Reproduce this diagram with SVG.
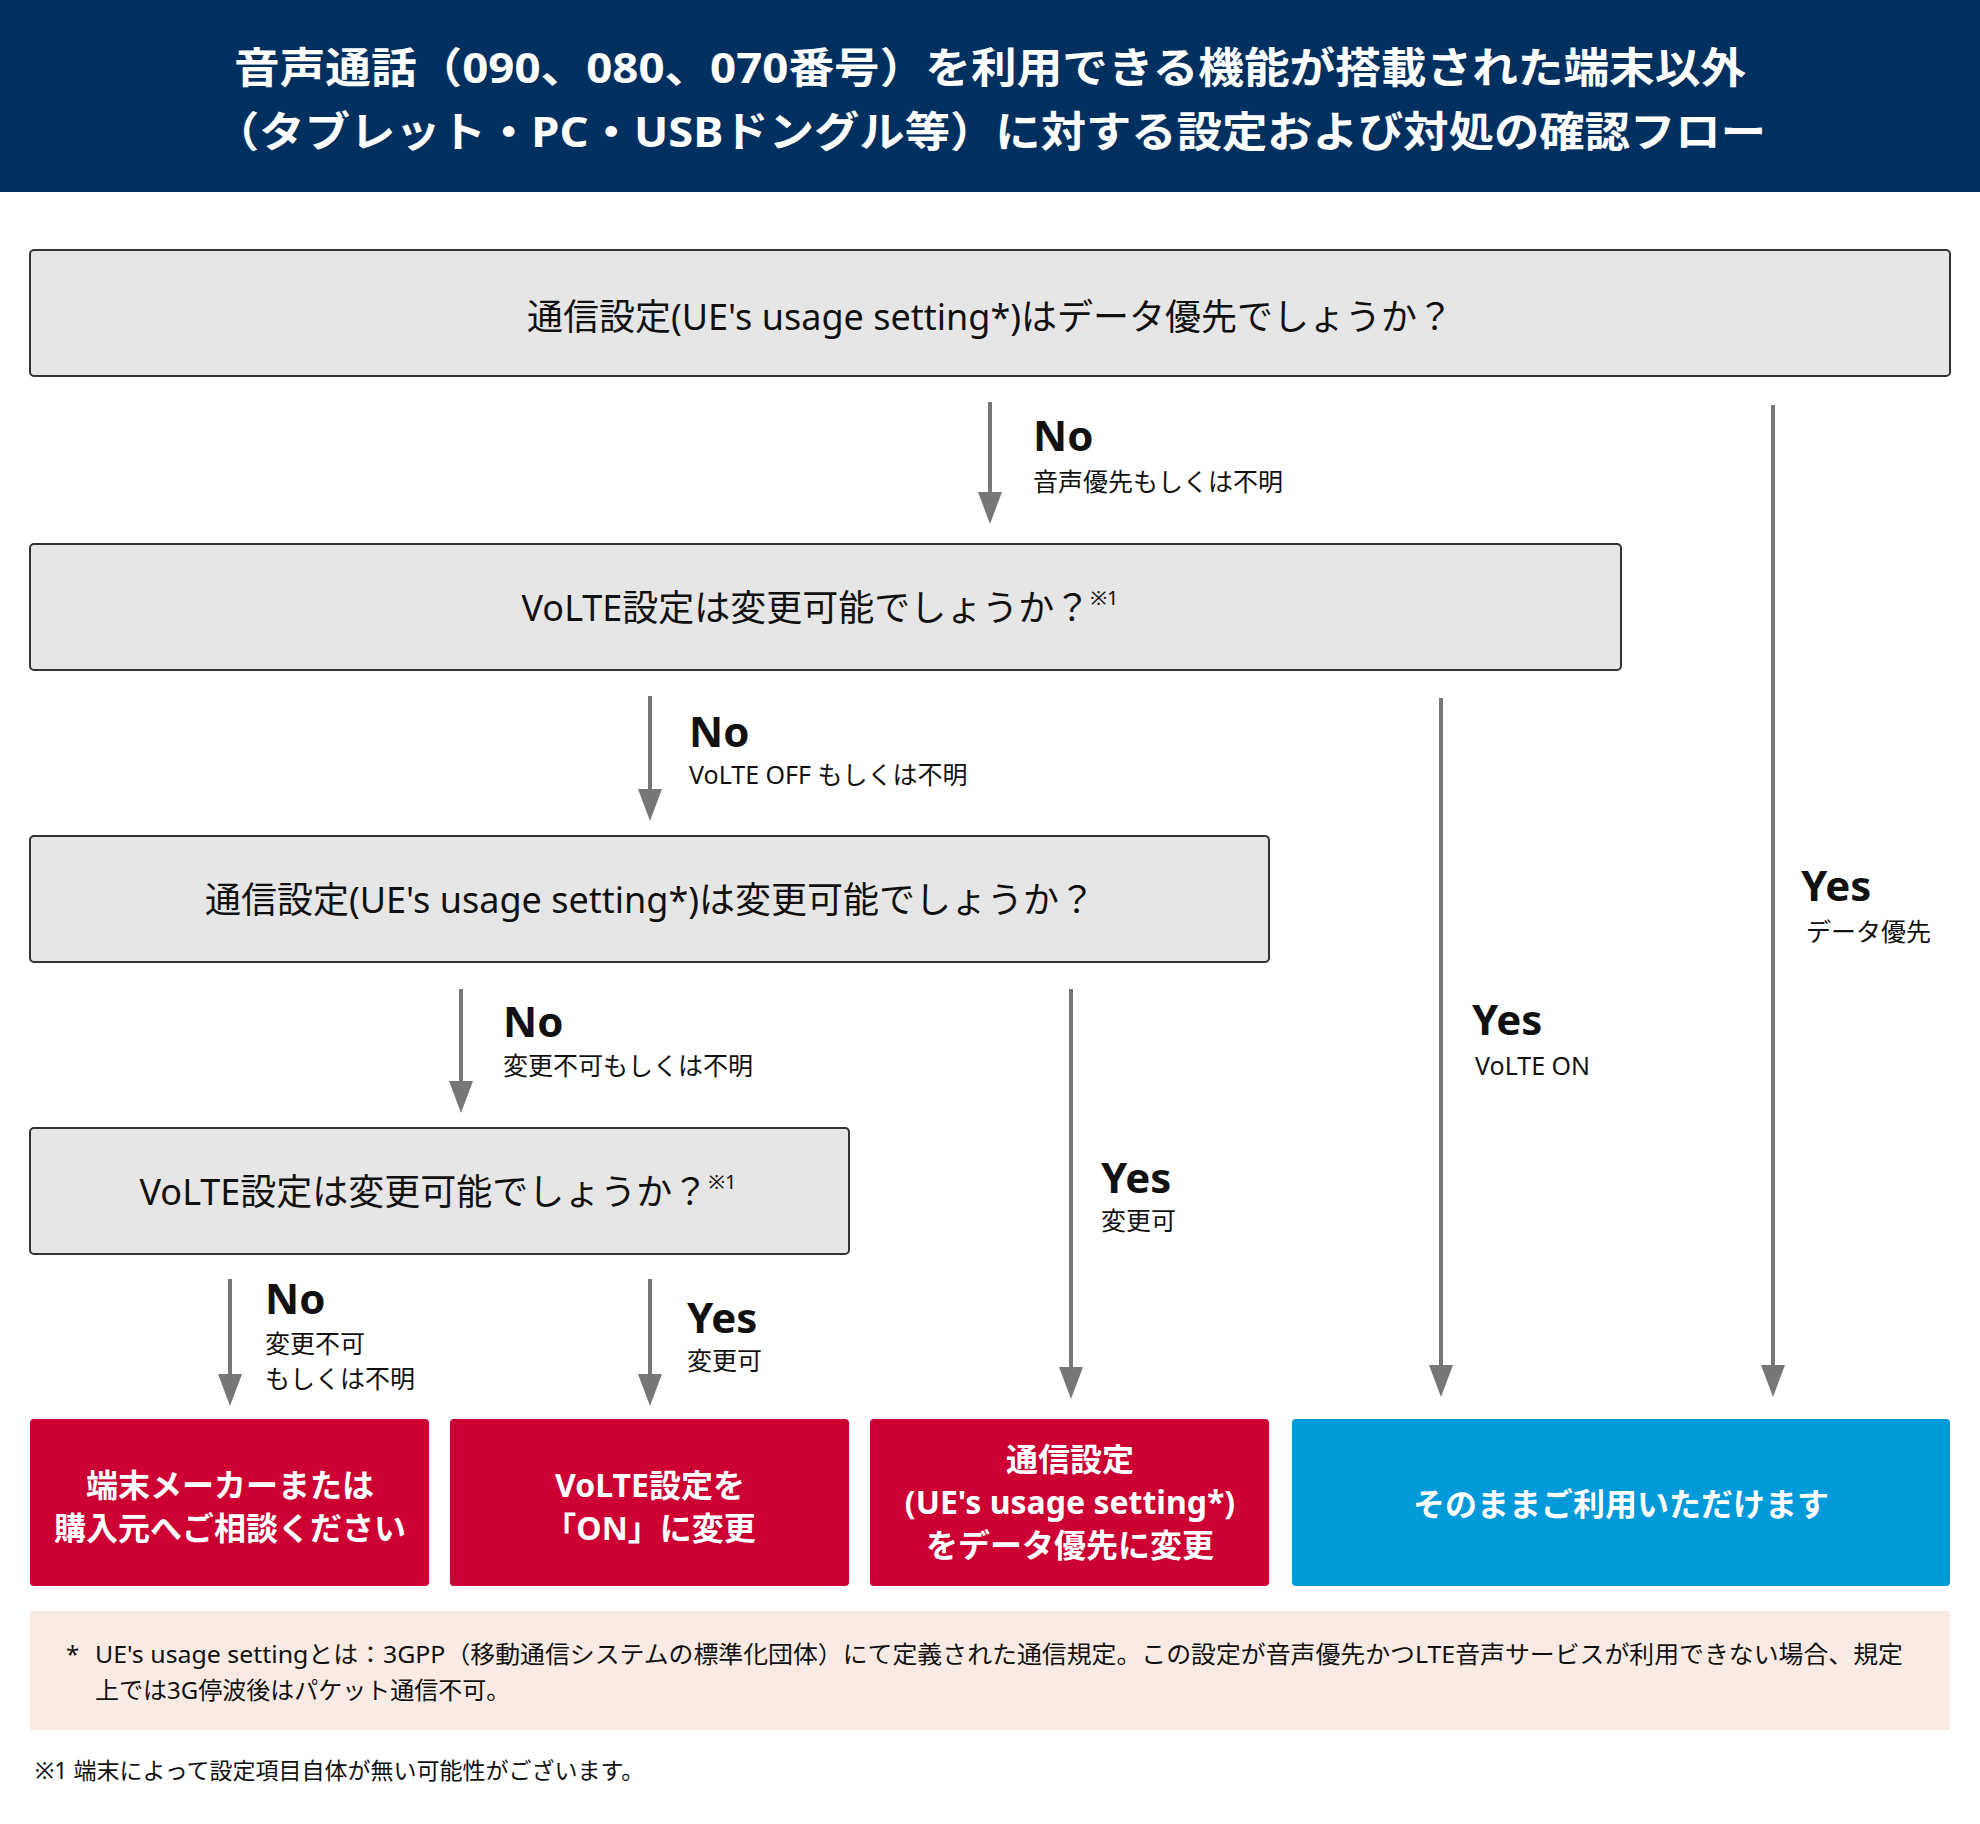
<svg xmlns="http://www.w3.org/2000/svg" width="1980" height="1824" viewBox="0 0 1980 1824">
<defs>
<style>
text{font-family:"Noto Sans","Noto Sans CJK JP",sans-serif;fill:#111}
.q{fill:#e6e6e6;stroke:#333;stroke-width:2}
.qt{font-size:36px;text-anchor:middle;dominant-baseline:central}
.sup{font-size:20px}
.lab{font-size:42px;font-weight:bold}
.sub{font-size:25px}
.res{font-size:32px;font-weight:bold;fill:#fff;text-anchor:middle;dominant-baseline:central}
.ar{stroke:#777;stroke-width:4;fill:none;marker-end:url(#ah)}
</style>
<marker id="ah" markerWidth="8" markerHeight="6" refX="4" refY="3" orient="auto" markerUnits="strokeWidth" viewBox="0 0 8 6"><path d="M0,0 L8,3 L0,6 z" fill="#777"/></marker>
</defs>
<rect width="1980" height="1824" fill="#fff"/>
<g id="header">
<rect x="0" y="0" width="1980" height="192" fill="#00305f"/>
<text x="990" y="66" font-size="42" font-weight="bold" text-anchor="middle" dominant-baseline="central" style="fill:#fff" textLength="1512" lengthAdjust="spacingAndGlyphs">音声通話（090、080、070番号）を利用できる機能が搭載された端末以外</text>
<text x="990" y="130" font-size="42" font-weight="bold" text-anchor="middle" dominant-baseline="central" style="fill:#fff" textLength="1552" lengthAdjust="spacingAndGlyphs">（タブレット・PC・USBドングル等）に対する設定および対処の確認フロー</text>
</g>
<g id="q1"><rect class="q" x="30" y="250" width="1920" height="126" rx="4"/><text class="qt" x="990" y="316">通信設定(UE's usage setting*)はデータ優先でしょうか？</text></g>
<g id="q2"><rect class="q" x="30" y="544" width="1591" height="126" rx="4"/><text class="qt" x="820" y="607">VoLTE設定は変更可能でしょうか？<tspan class="sup" dy="-10">※1</tspan></text></g>
<g id="q3"><rect class="q" x="30" y="836" width="1239" height="126" rx="4"/><text class="qt" x="650" y="899">通信設定(UE's usage setting*)は変更可能でしょうか？</text></g>
<g id="q4"><rect class="q" x="30" y="1128" width="819" height="126" rx="4"/><text class="qt" x="438" y="1191">VoLTE設定は変更可能でしょうか？<tspan class="sup" dy="-10">※1</tspan></text></g>
<g id="r1"><rect x="30" y="1419" width="399" height="167" rx="4" fill="#cc0033"/><text class="res" x="230" y="1484">端末メーカーまたは</text><text class="res" x="230" y="1527">購入元へご相談ください</text></g>
<g id="r2"><rect x="450" y="1419" width="399" height="167" rx="4" fill="#cc0033"/><text class="res" x="650" y="1484">VoLTE設定を</text><text class="res" x="650" y="1527">「ON」に変更</text></g>
<g id="r3"><rect x="870" y="1419" width="399" height="167" rx="4" fill="#cc0033"/><text class="res" x="1070" y="1458">通信設定</text><text class="res" x="1070" y="1501">(UE's usage setting*)</text><text class="res" x="1070" y="1544">をデータ優先に変更</text></g>
<g id="r4"><rect x="1292" y="1419" width="658" height="167" rx="4" fill="#0099d9"/><text class="res" x="1621" y="1503">そのままご利用いただけます</text></g>
<g id="connectors">
<line class="ar" x1="990" y1="402" x2="990" y2="508"/>
<line class="ar" x1="650" y1="696" x2="650" y2="805"/>
<line class="ar" x1="461" y1="989" x2="461" y2="1097"/>
<line class="ar" x1="230" y1="1279" x2="230" y2="1390"/>
<line class="ar" x1="650" y1="1279" x2="650" y2="1390"/>
<line class="ar" x1="1071" y1="989" x2="1071" y2="1383"/>
<line class="ar" x1="1441" y1="698" x2="1441" y2="1381"/>
<line class="ar" x1="1773" y1="405" x2="1773" y2="1381"/>
</g>
<g id="labels">
<text class="lab" x="1033" y="451">No</text><text class="sub" x="1033" y="491">音声優先もしくは不明</text>
<text class="lab" x="689" y="747">No</text><text class="sub" x="689" y="784">VoLTE OFF もしくは不明</text>
<text class="lab" x="503" y="1037">No</text><text class="sub" x="503" y="1075">変更不可もしくは不明</text>
<text class="lab" x="265" y="1314">No</text><text class="sub" x="265" y="1353">変更不可</text><text class="sub" x="265" y="1388">もしくは不明</text>
<text class="lab" x="687" y="1333">Yes</text><text class="sub" x="687" y="1370">変更可</text>
<text class="lab" x="1101" y="1193">Yes</text><text class="sub" x="1101" y="1230">変更可</text>
<text class="lab" x="1472" y="1035">Yes</text><text class="sub" x="1475" y="1075">VoLTE ON</text>
<text class="lab" x="1801" y="901">Yes</text><text class="sub" x="1806" y="941">データ優先</text>
</g>
<g id="notes">
<rect x="30" y="1611" width="1920" height="119" fill="#f9ebe3"/>
<text x="66" y="1663" font-size="24">*</text>
<text x="95" y="1663" font-size="24" textLength="1808" lengthAdjust="spacingAndGlyphs">UE's usage settingとは：3GPP（移動通信システムの標準化団体）にて定義された通信規定。この設定が音声優先かつLTE音声サービスが利用できない場合、規定</text>
<text x="95" y="1699" font-size="24">上では3G停波後はパケット通信不可。</text>
<text x="35" y="1779" font-size="23">※1 端末によって設定項目自体が無い可能性がございます。</text>
</g>
</svg>
